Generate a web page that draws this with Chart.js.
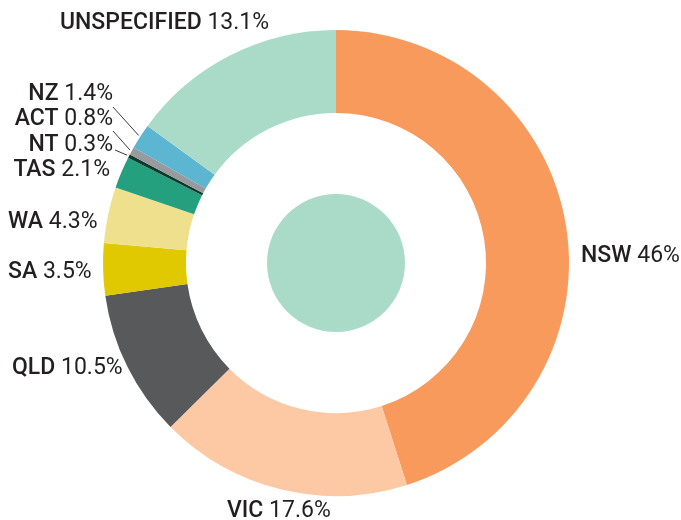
<!DOCTYPE html>
<html>
<head>
<meta charset="utf-8">
<script src="https://cdn.jsdelivr.net/npm/chart.js@4/dist/chart.umd.min.js"></script>
<style>
  html, body { margin: 0; padding: 0; background: #fff; }
  #wrap { width: 681px; height: 520px; }
</style>
</head>
<body>
<div id="wrap"><canvas id="regionChart" width="681" height="520"></canvas></div>
<script>
// clockwise from 12 o'clock
const regions = ["NSW", "VIC", "QLD", "SA", "WA", "TAS", "NT", "ACT", "NZ", "UNSPECIFIED"];
// printed percentages
const pctLabels = ["46%", "17.6%", "10.5%", "3.5%", "4.3%", "2.1%", "0.3%", "0.8%", "1.4%", "13.1%"];
// slice sizes as drawn in the picture (share of the ring, %)
const shares = [45.1, 17.5, 10.2, 3.6, 3.9, 2.2, 0.25, 0.55, 1.75, 15.0];
const colours = ["#f79a5b", "#fcc9a4", "#58595b", "#e0c900", "#efe08e",
                 "#24a07f", "#0d3a2e", "#999a9e", "#5cb5d1", "#aadbc9"];

// label placement: x is left edge (align 'left') or right edge (align 'right'), y is baseline
const labelPos = [
    { x: 581, y: 262, align: "left" },
    { x: 227, y: 517, align: "left" },
    { x: 12, y: 374, align: "left" },
    { x: 8, y: 278, align: "left" },
    { x: 8, y: 228, align: "left" },
    { x: 110, y: 176, align: "right" },
    { x: 113, y: 151, align: "right", line: [115, 150] },
    { x: 113, y: 125, align: "right", line: [113, 131] },
    { x: 113, y: 100, align: "right", line: [113, 107] },
    { x: 60, y: 28.5, align: "left" },
];

const FONT_SIZE = 23;
const TEXT_COLOUR = "#231f20";

const centreDot = {
    id: "centreDot",
    afterDatasetsDraw(chart) {
        const arc = chart.getDatasetMeta(0).data[0];
        const ctx = chart.ctx;
        ctx.save();
        ctx.fillStyle = "#aadbc9";
        ctx.beginPath();
        ctx.arc(arc.x, arc.y, 69, 0, Math.PI * 2);
        ctx.fill();
        ctx.restore();
    },
};

const outerLabels = {
    id: "outerLabels",
    afterDraw(chart) {
        const ctx = chart.ctx;
        const arcs = chart.getDatasetMeta(0).data;
        ctx.save();
        ctx.textBaseline = "alphabetic";
        ctx.textAlign = "left";
        regions.forEach((name, i) => {
            const pos = labelPos[i];
            const boldFont = `500 ${FONT_SIZE}px Roboto`;
            const normFont = `400 ${FONT_SIZE}px Roboto`;
            ctx.font = boldFont;
            const w1 = ctx.measureText(name + " ").width;
            ctx.font = normFont;
            const w2 = ctx.measureText(pctLabels[i]).width;
            const x0 = pos.align === "right" ? pos.x - w1 - w2 : pos.x;
            ctx.fillStyle = TEXT_COLOUR;
            ctx.font = boldFont;
            ctx.fillText(name + " ", x0, pos.y);
            ctx.font = normFont;
            ctx.fillText(pctLabels[i], x0 + w1, pos.y);

            if (pos.line) {
                const a = arcs[i];
                const mid = (a.startAngle + a.endAngle) / 2;
                const r = a.outerRadius + 2;
                ctx.strokeStyle = "#3a3a3a";
                ctx.lineWidth = 1;
                ctx.beginPath();
                ctx.moveTo(pos.line[0], pos.line[1]);
                ctx.lineTo(a.x + Math.cos(mid) * r, a.y + Math.sin(mid) * r);
                ctx.stroke();
            }
        });
        ctx.restore();
    },
};

new Chart(document.getElementById("regionChart").getContext("2d"), {
    type: "doughnut",
    data: {
        labels: regions,
        datasets: [
            {
                data: shares,
                backgroundColor: colours,
                borderWidth: 0,
                hoverOffset: 0,
            },
        ],
    },
    options: {
        responsive: false,
        animation: false,
        cutout: "64.4%",
        layout: {
            padding: { left: 103, right: 112, top: 30, bottom: 24 },
        },
        plugins: {
            legend: { display: false },
            tooltip: { enabled: false },
        },
    },
    plugins: [centreDot, outerLabels],
});
</script>
</body>
</html>
